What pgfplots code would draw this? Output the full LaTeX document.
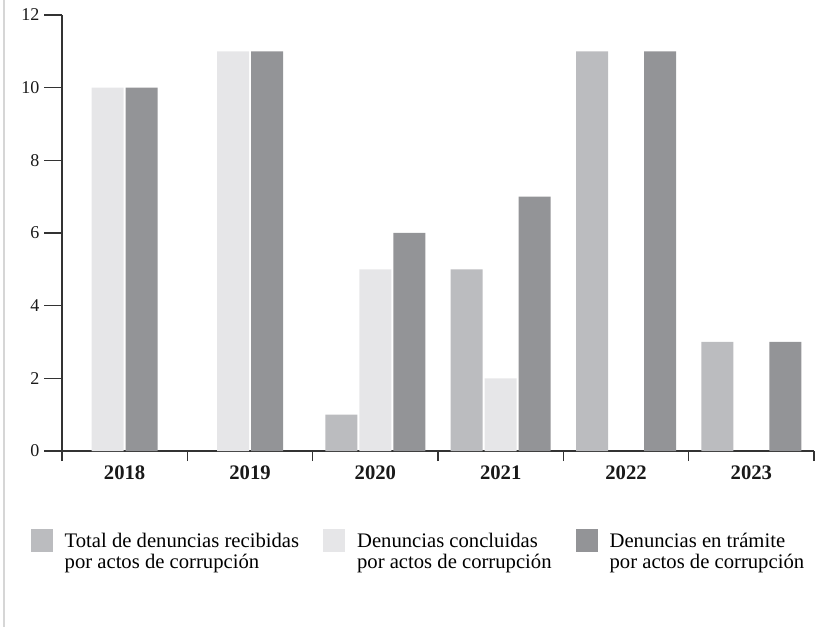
\documentclass[border=0pt]{standalone}
\usepackage{pgfplots}
\pgfplotsset{compat=1.18}
\usepackage{fontspec}
\setmainfont{Liberation Serif}
\definecolor{cTotal}{HTML}{BBBCBF}
\definecolor{cConc}{HTML}{E6E6E8}
\definecolor{cTram}{HTML}{939497}
\definecolor{axcol}{HTML}{333333}
\definecolor{framecol}{HTML}{D6D6D6}
\begin{document}
\begin{tikzpicture}
\begin{axis}[
  name=ax,
  scale only axis,
  width=564pt, height=327pt,
  xmin=-0.5, xmax=5.5, ymin=0, ymax=12,
  axis x line*=bottom, axis y line*=left,
  axis line style={axcol, line width=0.8pt, -},
  major tick length=13.5pt,
  tick align=outside,
  ytick={0,2,...,12},
  ytick style={axcol, line width=0.8pt},
  yticklabel={\pgfmathprintnumber[assume math mode=true]{\tick}},
  yticklabel style={font=\fontsize{13.5}{15}\selectfont, text=black!90},
  xtick={0,1,2,3,4,5},
  xticklabels={2018,2019,2020,2021,2022,2023},
  xtick style={draw=none},
  xticklabel style={font=\bfseries\fontsize{15.5}{18}\selectfont, text=black!90, yshift=6pt},
  extra x ticks={-0.5,0.5,1.5,2.5,3.5,4.5,5.5},
  extra x tick labels={},
  extra x tick style={xtick style={draw=axcol, line width=0.8pt, /pgfplots/major tick length=7.5pt}},
  ybar,
  bar width=24pt,
  legend columns=3,
  legend style={draw=none, fill=none, inner sep=0pt, outer sep=0pt,
    at={(-0.0412,-0.179)}, anchor=north west,
    font=\fontsize{15.5}{16.3}\selectfont,
    cells={align=left, anchor=west, inner sep=0pt},
    /tikz/every odd column/.append style={column sep=6.75pt},
    /tikz/every even column/.append style={column sep=16.25pt}},
  legend image code/.code={\fill[#1] (0pt,0pt) rectangle (16.5pt,17pt);},
]
\addplot[fill=cTotal, draw=none, bar shift=-25.5pt] coordinates {(2,1) (3,5) (4,11) (5,3)};
\addlegendentry{Total de denuncias recibidas\\por actos de corrupción}
\addplot[fill=cConc, draw=none, bar shift=0pt] coordinates {(2,5) (3,2)};
\addlegendentry{Denuncias concluidas\\por actos de corrupción}
\addplot[fill=cTram, draw=none, bar shift=25.5pt] coordinates {(2,6) (3,7) (4,11) (5,3)};
\addlegendentry{Denuncias en trámite\\por actos de corrupción}
\addplot[fill=cConc, draw=none, bar shift=-12.75pt, forget plot] coordinates {(0,10) (1,11)};
\addplot[fill=cTram, draw=none, bar shift=12.75pt, forget plot] coordinates {(0,10) (1,11)};
\end{axis}
\draw[framecol, line width=1.1pt] (ax.south west) ++(-43.5pt,-132pt) -- ++(0,470.25pt);
\pgfresetboundingbox
\path[use as bounding box] (ax.south west) ++(-46.5pt,-132pt) rectangle ++(620.25pt,470.25pt);
\end{tikzpicture}
\end{document}
